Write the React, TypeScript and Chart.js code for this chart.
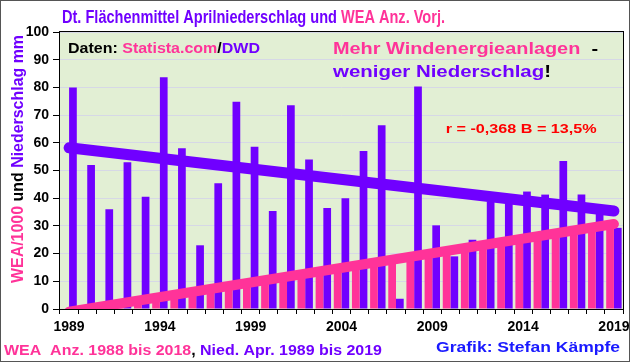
import React, { useEffect, useRef } from 'react';
import { Chart, registerables } from 'chart.js';

Chart.register(...registerables);

// Categories (years of precipitation; WEA value is of the previous year)
const years = [
  '1989', '1990', '1991', '1992', '1993', '1994', '1995', '1996', '1997', '1998',
  '1999', '2000', '2001', '2002', '2003', '2004', '2005', '2006', '2007', '2008',
  '2009', '2010', '2011', '2012', '2013', '2014', '2015', '2016', '2017', '2018', '2019',
];
const tickYears = ['1989', '1994', '1999', '2004', '2009', '2014', '2019'];

// April precipitation, area mean Germany (mm), 1989..2019
const precip = [
  80, 52, 36, 53, 40.5, 83.7, 58, 23, 45.4, 74.8,
  58.6, 35.4, 73.6, 54, 36.5, 40, 57, 66.3, 3.7, 80.3,
  30.2, 19, 25, 38.9, 38.5, 42.4, 41.3, 53.4, 41.3, 35, 29.3,
];

// Number of wind turbines (WEA) / 1000, 1988..2018
const wea = [
  0.2, 0.4, 1.0, 1.8, 2.8, 3.8, 4.8, 5.8, 6.8, 7.8,
  8.9, 9.9, 10.9, 11.9, 13.0, 14.0, 15.0, 16.1, 17.1, 18.1,
  19.2, 20.2, 21.2, 22.3, 23.3, 24.3, 25.3, 26.4, 27.4, 28.4, 29.5,
];

// Linear trend values at first and last category
const precipTrend = [58.2, 35.4];
const weaTrend = [-1.0, 30.7];

const PURPLE = '#7000ff';
const PINK = '#ff3399';
const BLACK = '#000000';
const RED = '#ff0000';
const BLUE = '#1a1aff';
const PLOT_BG = '#e2efd4';
const FONT = '"Liberation Sans", Arial, sans-serif';

type Seg = [string, string];

function rich(
  ctx: CanvasRenderingContext2D,
  segs: Seg[],
  x: number,
  y: number,
  size: number,
  targetW: number,
  rotate = false,
) {
  ctx.save();
  ctx.font = `bold ${size}px ${FONT}`;
  let total = 0;
  for (const [t] of segs) total += ctx.measureText(t).width;
  const sx = targetW / total;
  ctx.translate(x, y);
  if (rotate) ctx.rotate(-Math.PI / 2);
  ctx.scale(sx, 1);
  ctx.textBaseline = 'alphabetic';
  ctx.textAlign = 'left';
  let cx = 0;
  for (const [t, c] of segs) {
    ctx.fillStyle = c;
    ctx.fillText(t, cx, 0);
    cx += ctx.measureText(t).width;
  }
  ctx.restore();
}

const trendData = (t: number[]) =>
  years.map((_, i) => (i === 0 ? t[0] : i === years.length - 1 ? t[1] : null));

const decorPlugin = {
  id: 'decor',
  beforeDraw(chart: any) {
    const { ctx, chartArea: a } = chart;
    ctx.save();
    ctx.fillStyle = '#ffffff';
    ctx.fillRect(0, 0, chart.width, chart.height);
    ctx.fillStyle = PLOT_BG;
    ctx.fillRect(a.left, a.top, a.right - a.left, a.bottom - a.top);
    ctx.restore();
  },
  afterDraw(chart: any) {
    const { ctx, chartArea: a } = chart;
    ctx.save();
    // plot border
    ctx.strokeStyle = BLACK;
    ctx.lineWidth = 1;
    ctx.strokeRect(Math.round(a.left) - 0.5, Math.round(a.top) - 0.5, Math.round(a.right - a.left) + 1, Math.round(a.bottom - a.top) + 1);
    // outer frame
    ctx.strokeStyle = '#555555';
    ctx.strokeRect(0.5, 0.5, 629, 361);
    ctx.restore();

    rich(ctx, [['Dt. Flächenmittel Aprilniederschlag und ', PURPLE], ['WEA Anz. Vorj.', PINK]], 62, 23, 18.5, 383);
    rich(ctx, [['WEA/1000', PINK], [' und ', BLACK], ['Niederschlag mm', PURPLE]], 22.5, 283, 16.5, 248, true);
    rich(ctx, [['Daten: ', BLACK], ['Statista.com', PINK], ['/', BLACK], ['DWD', PURPLE]], 68, 52.5, 14.5, 192);
    rich(ctx, [['Mehr Windenergieanlagen', PINK], ['  -', BLACK]], 333, 54, 17, 265);
    rich(ctx, [['weniger Niederschlag', PURPLE], ['!', BLACK]], 333, 76.7, 17, 218);
    rich(ctx, [['r = -0,368 B = 13,5%', RED]], 445.7, 132.7, 12, 151);
    rich(ctx, [['WEA  Anz. 1988 bis 2018', PINK], [', ', BLACK], ['Nied. Apr. 1989 bis 2019', PURPLE]], 4, 355, 15, 378);
    rich(ctx, [['Grafik: Stefan Kämpfe', BLUE]], 436, 351.7, 15, 184);
  },
};

export default function App() {
  const ref = useRef<HTMLCanvasElement | null>(null);

  useEffect(() => {
    document.body.style.margin = '0';
    const canvas = ref.current;
    if (!canvas) return;
    const chart = new Chart(canvas, {
      type: 'bar',
      data: {
        labels: years,
        datasets: [
          {
            type: 'line',
            label: 'Trend Niederschlag',
            data: trendData(precipTrend),
            borderColor: PURPLE,
            borderWidth: 11,
            borderCapStyle: 'round',
            pointRadius: 0,
            spanGaps: true,
            clip: 0,
            order: 0,
          } as any,
          {
            type: 'line',
            label: 'Trend WEA',
            data: trendData(weaTrend),
            borderColor: PINK,
            borderWidth: 10,
            borderCapStyle: 'round',
            pointRadius: 0,
            spanGaps: true,
            clip: 0,
            order: 0,
          } as any,
          {
            type: 'bar',
            label: 'WEA/1000',
            data: wea,
            backgroundColor: PINK,
            borderWidth: 0,
            categoryPercentage: 0.85,
            barPercentage: 1.0,
            order: 1,
          },
          {
            type: 'bar',
            label: 'Niederschlag',
            data: precip,
            backgroundColor: PURPLE,
            borderWidth: 0,
            categoryPercentage: 0.85,
            barPercentage: 1.0,
            order: 1,
          },
        ],
      },
      options: {
        responsive: false,
        animation: false,
        devicePixelRatio: 1,
        layout: { padding: { left: 0, right: 17, top: 32, bottom: 0 } },
        plugins: {
          legend: { display: false },
          tooltip: { enabled: false },
          title: { display: false },
        },
        scales: {
          x: {
            offset: true,
            grid: {
              offset: true,
              drawOnChartArea: false,
              drawTicks: true,
              tickLength: 5,
              tickColor: BLACK,
              color: BLACK,
            },
            border: { display: false },
            ticks: {
              autoSkip: false,
              maxRotation: 0,
              minRotation: 0,
              padding: 5,
              color: BLACK,
              font: { family: FONT, size: 14, weight: 'bold' },
              callback: (_v: any, idx: number) => (tickYears.includes(years[idx]) ? years[idx] : ''),
            },
            afterFit: (s: any) => {
              s.height = 55;
            },
          },
          y: {
            min: 0,
            max: 100,
            grid: {
              color: '#d6d8e6',
              tickColor: BLACK,
              tickLength: 7,
              drawTicks: true,
            },
            border: { display: false },
            ticks: {
              stepSize: 10,
              padding: 4,
              color: BLACK,
              font: { family: FONT, size: 14, weight: 'bold' },
            },
            afterFit: (s: any) => {
              s.width = 60;
            },
          },
        },
      } as any,
      plugins: [decorPlugin],
    });
    return () => chart.destroy();
  }, []);

  return (
    <div style={{ position: 'fixed', left: 0, top: 0, width: 640, height: 364, background: '#fff' }}>
      <canvas ref={ref} width={640} height={364} style={{ width: 640, height: 364, display: 'block' }} />
    </div>
  );
}
